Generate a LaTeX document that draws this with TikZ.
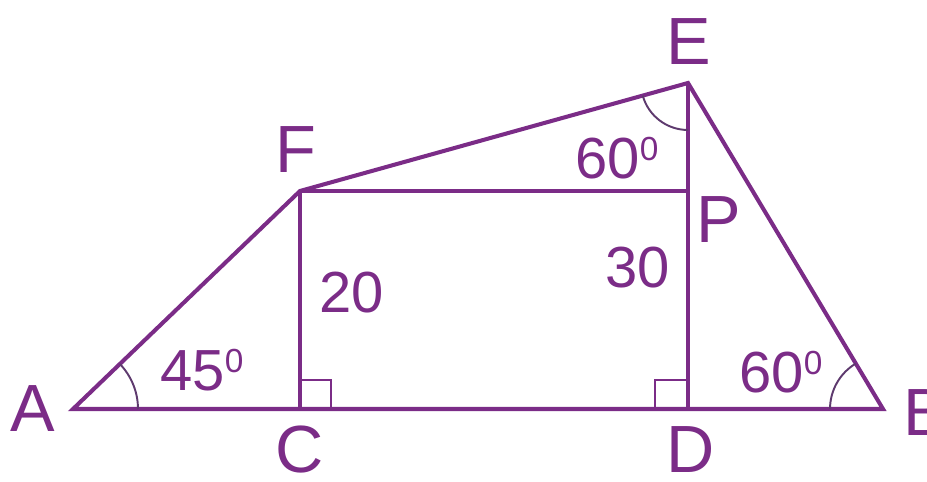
\documentclass[tikz,border=0pt]{standalone}
\usepackage{fontspec}
\setmainfont{Liberation Sans}
\definecolor{geoPurple}{HTML}{7B2C87}
\definecolor{geoArc}{HTML}{5E3A6E}
\usetikzlibrary{angles}
\newcommand{\degsup}{\raisebox{10pt}{\fontsize{19}{20}\selectfont 0}}

\begin{document}
\begin{tikzpicture}[
  x=0.02cm, y=-0.02cm,
  edge/.style={draw=geoPurple, line width=2.3pt},
  inner/.style={draw=geoPurple, line width=1.8pt},
  sq/.style={draw=geoPurple, line width=1.2pt},
  ang/.style={draw=geoArc, line width=1.1pt, angle radius=#1},
  pt/.style={font=\fontsize{38}{40}\selectfont, text=geoPurple, inner sep=0pt},
  num/.style={font=\fontsize{33}{36}\selectfont, text=geoPurple, inner sep=0pt}
]
  \useasboundingbox (0,0) rectangle (927,482);

  % Points
  \coordinate (A) at (73,409);
  \coordinate (C) at (300,409);
  \coordinate (D) at (688,409);
  \coordinate (B) at (883,409);
  \coordinate (F) at (300,191);
  \coordinate (P) at (688,191);
  \coordinate (E) at (688,83);

  % Paths
  \draw[edge] (A) -- (F) -- (E) -- (B) -- cycle;
  \draw[inner] (F) -- (C);
  \draw[inner] (F) -- (P);
  \draw[inner] (E) -- (D);

  % Right angles
  \draw[sq] (C) rectangle ++(31,-29);
  \draw[sq] (D) rectangle ++(-33,-29);

  % Angle arcs
  \pic[ang=1.3cm] {angle = C--A--F};
  \pic[ang=1.06cm] {angle = E--B--A};
  \pic[ang=0.94cm] {angle = F--E--D};

  % Point labels
  \node[pt] (lA) at (33,409) {A};
  \node[pt] (lC) at (300,450) {C};
  \node[pt] (lD) at (691,450) {D};
  \node[pt, anchor=west] (lB) at (903,413) {B};
  \node[pt] (lE) at (689,42) {E};
  \node[pt] (lF) at (296,150) {F};
  \node[pt] (lP) at (719,220) {P};

  % Values
  \node[num] (n20) at (352,293) {20};
  \node[num] (n30) at (638,268) {30};
  \node[num] (aA) at (202,370) {45\degsup};
  \node[num] (aB) at (781,372) {60\degsup};
  \node[num] (aE) at (617,158) {60\degsup};
\end{tikzpicture}
\end{document}
